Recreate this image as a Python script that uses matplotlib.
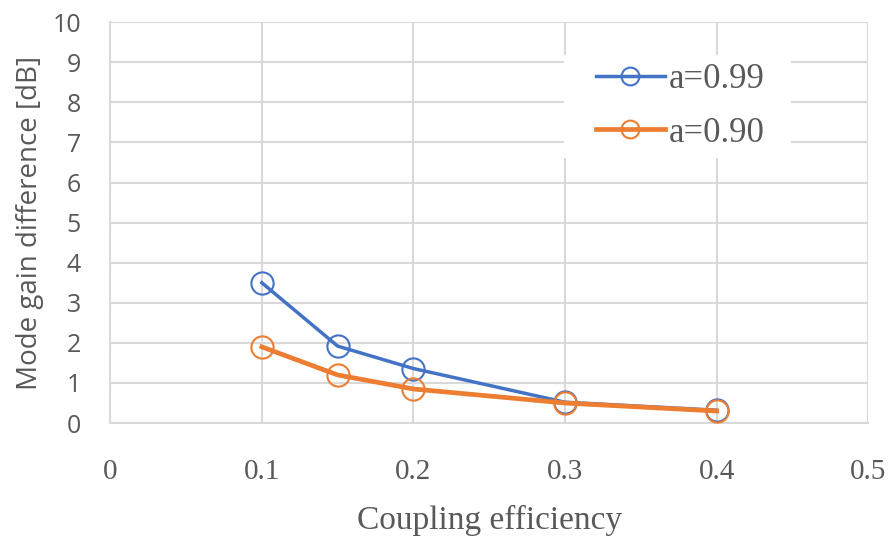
import matplotlib
matplotlib.use("Agg")
import matplotlib.pyplot as plt
from matplotlib.patches import Rectangle

# data
coupling = [0.1, 0.15, 0.2, 0.3, 0.4]
gain_a099 = [3.5, 1.92, 1.36, 0.52, 0.32]
gain_a090 = [1.9, 1.2, 0.85, 0.5, 0.3]

x_ticks = [0, 0.1, 0.2, 0.3, 0.4, 0.5]
x_labels = ["0", "0.1", "0.2", "0.3", "0.4", "0.5"]
y_ticks = list(range(0, 11))

blue = "#4472C4"
orange = "#ED7D31"
grid_col = "#D9D9D9"
text_col = "#595959"
serif = "Liberation Serif"
sans = "Open Sans"

fig = plt.figure(figsize=(8.96, 5.41), dpi=100)
ax = fig.add_axes([0.123, 0.218, 0.846, 0.741])

ax.plot(coupling, gain_a099, color=blue, lw=2.5, marker="o", ms=16,
        mfc="none", mec=blue, mew=1.5, label="a=0.99", zorder=3)
ax.plot(coupling, gain_a090, color=orange, lw=3.4, marker="o", ms=16,
        mfc="none", mec=orange, mew=1.5, label="a=0.90", zorder=4)

ax.set_xlim(0, 0.5)
ax.set_ylim(0, 10)
ax.set_xticks(x_ticks)
ax.set_xticklabels(x_labels, fontfamily=serif, fontsize=21, color=text_col)
ax.set_yticks(y_ticks)
ax.set_yticklabels([str(v) for v in y_ticks], fontfamily=sans, fontsize=18, color=text_col)
ax.tick_params(axis="y", length=0, pad=21)
ax.tick_params(axis="x", length=0, pad=26)

ax.grid(True, color=grid_col, lw=1.5)
ax.set_axisbelow(True)
for s in ax.spines.values():
    s.set_color(grid_col)
    s.set_linewidth(1.5)
ax.spines["top"].set_visible(False)
ax.spines["right"].set_visible(False)

ax.set_xlabel("Coupling efficiency", fontfamily=serif, fontsize=24, color=text_col, labelpad=14)
ax.set_ylabel("Mode gain difference [dB]", fontfamily=sans, fontsize=20, color=text_col, labelpad=6)

# white legend box hiding the grid, as in the original
ax.add_patch(Rectangle((0.598, 0.661), 0.3, 0.257, transform=ax.transAxes,
                       facecolor="white", edgecolor="none", zorder=2))

leg = ax.legend(loc="upper right", bbox_to_anchor=(0.886, 0.942), frameon=False,
                prop={"family": serif, "size": 25}, handlelength=2.0,
                borderpad=0, labelspacing=0.6, handletextpad=0.1, markerscale=0.8)
for t in leg.get_texts():
    t.set_color(text_col)

fig.savefig("out.png", dpi=100)
